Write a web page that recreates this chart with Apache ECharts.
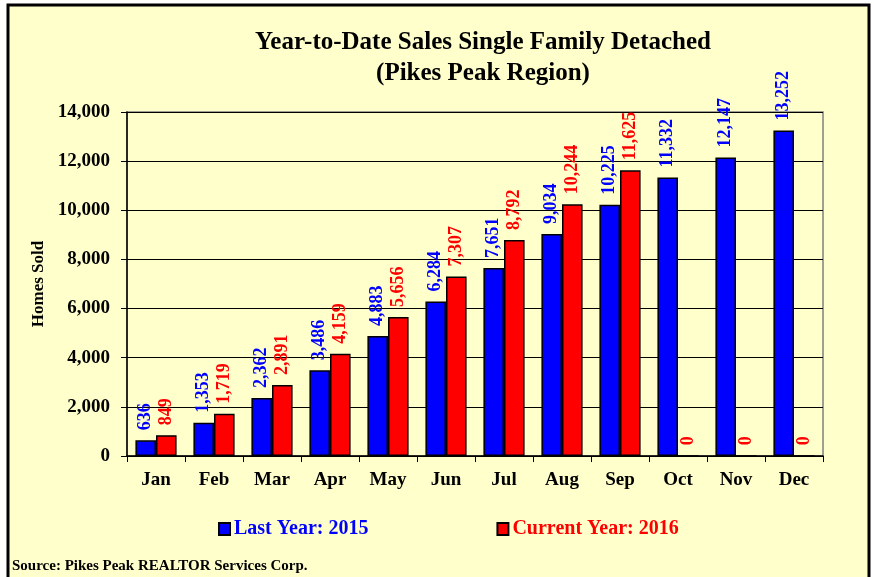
<!DOCTYPE html>
<html>
<head>
<meta charset="utf-8">
<script src="https://cdn.jsdelivr.net/npm/echarts@6/dist/echarts.min.js"></script>
<style>
  html, body { margin: 0; padding: 0; background: #ffffff; }
  #main { width: 874px; height: 577px; }
</style>
</head>
<body>
<div id="main"></div>
<script>
// data
const months = ['Jan', 'Feb', 'Mar', 'Apr', 'May', 'Jun', 'Jul', 'Aug', 'Sep', 'Oct', 'Nov', 'Dec'];
const lastYear = [636, 1353, 2362, 3486, 4883, 6284, 7651, 9034, 10225, 11332, 12147, 13252];
const currentYear = [849, 1719, 2891, 4159, 5656, 7307, 8792, 10244, 11625, 0, 0, 0];
const lastYearName = 'Last Year: 2015';
const currentYearName = 'Current Year: 2016';

const serif = '"Liberation Serif", "Times New Roman", serif';
const fmt = v => Number(v).toLocaleString('en-US');

let myChart = echarts.init(document.getElementById('main'));

let option = {
  backgroundColor: '#ffffff',
  animation: false,
  textStyle: { fontFamily: serif },
  title: {
    text: 'Year-to-Date Sales Single Family Detached\n(Pikes Peak Region)',
    left: 478,
    textAlign: 'center',
    top: 22,
    textStyle: {
      fontFamily: serif,
      fontWeight: 'bold',
      fontSize: 25,
      lineHeight: 31,
      color: '#000'
    }
  },
  graphic: [
    {
      type: 'rect',
      z: -10,
      shape: { x: 8, y: 5, width: 861, height: 580 },
      style: { fill: '#FFFFCC', stroke: '#000', lineWidth: 3 }
    },
    {
      type: 'text',
      left: 12,
      top: 559,
      style: {
        text: 'Source: Pikes Peak REALTOR Services Corp.',
        font: 'bold 15px ' + serif,
        fill: '#000'
      }
    }
  ],
  legend: {
    left: 218,
    top: 519,
    padding: 0,
    itemWidth: 11,
    itemHeight: 12,
    itemGap: 128,
    icon: 'rect',
    textStyle: { fontFamily: serif, fontWeight: 'bold', fontSize: 20, padding: [0, 0, 0, -1] },
    data: [
      { name: lastYearName, textStyle: { color: '#0000FF' } },
      { name: currentYearName, textStyle: { color: '#FF0000' } }
    ]
  },
  grid: {
    left: 127,
    right: 51,
    top: 112,
    bottom: 121,
    show: true,
    backgroundColor: '#FFFFCC',
    borderColor: '#808080',
    borderWidth: 1.5
  },
  xAxis: {
    type: 'category',
    data: months,
    axisLine: { lineStyle: { color: '#000', width: 1.5 } },
    axisTick: { show: true, length: 6, lineStyle: { color: '#000' } },
    axisLabel: {
      color: '#000',
      fontFamily: serif,
      fontWeight: 'bold',
      fontSize: 19,
      margin: 15
    }
  },
  yAxis: {
    type: 'value',
    min: 0,
    max: 14000,
    interval: 2000,
    name: 'Homes Sold',
    nameLocation: 'middle',
    nameGap: 80,
    nameTextStyle: { fontFamily: serif, fontWeight: 'bold', fontSize: 17, color: '#000' },
    axisLine: { show: true, lineStyle: { color: '#000', width: 1.5 } },
    axisTick: { show: true, length: 6, lineStyle: { color: '#000' } },
    splitLine: { lineStyle: { color: '#000', width: 1.2 } },
    axisLabel: {
      color: '#000',
      fontFamily: serif,
      fontWeight: 'bold',
      fontSize: 19,
      margin: 17,
      formatter: fmt
    }
  },
  series: [
    {
      name: lastYearName,
      type: 'bar',
      data: lastYear,
      barGap: '0%',
      barCategoryGap: '29%',
      itemStyle: { color: '#0000FF', borderColor: '#000', borderWidth: 1.5 },
      label: {
        show: true,
        position: 'top',
        rotate: 90,
        align: 'left',
        verticalAlign: 'middle',
        distance: 10,
        color: '#0000FF',
        fontFamily: serif,
        fontWeight: 'bold',
        fontSize: 18,
        formatter: p => fmt(p.value)
      }
    },
    {
      name: currentYearName,
      type: 'bar',
      data: currentYear,
      itemStyle: { color: '#FF0000', borderColor: '#000', borderWidth: 1.5 },
      label: {
        show: true,
        position: 'top',
        rotate: 90,
        align: 'left',
        verticalAlign: 'middle',
        distance: 10,
        color: '#FF0000',
        fontFamily: serif,
        fontWeight: 'bold',
        fontSize: 18,
        formatter: p => fmt(p.value)
      }
    }
  ]
};

myChart.setOption(option);
</script>
</body>
</html>
